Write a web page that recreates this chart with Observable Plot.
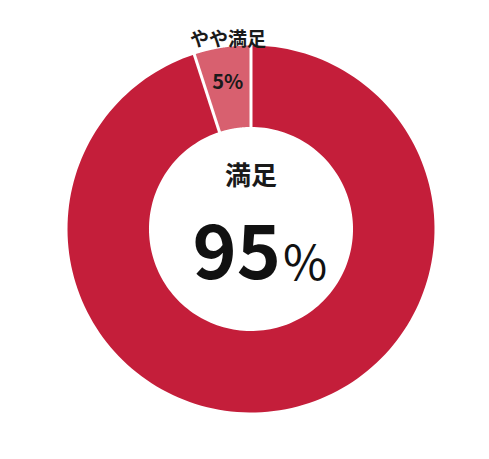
<!DOCTYPE html>
<html><head><meta charset="utf-8">
<script src="https://cdn.jsdelivr.net/npm/d3@7"></script>
<script src="https://cdn.jsdelivr.net/npm/@observablehq/plot@0.6"></script>
<style>body{margin:0;background:#fff;}</style>
</head><body><div id="chart"></div>
<script>
const categories = ["満足", "やや満足"];
const values = [95, 5];
const valueLabels = ["95", "5%"];
const colors = ["#C41E3A", "#D8606F"];
const innerRatio = 0.556;

const arcs = d3.pie().sort(null).value(d => d)(values);
const steps = 180;
const slices = arcs.map((a, i) => {
  const pts = [];
  for (let k = 0; k <= steps; k++) {
    const t = a.startAngle + (a.endAngle - a.startAngle) * k / steps;
    pts.push({x: Math.sin(t), y: Math.cos(t), cat: categories[i]});
  }
  for (let k = steps; k >= 0; k--) {
    const t = a.startAngle + (a.endAngle - a.startAngle) * k / steps;
    pts.push({x: Math.sin(t) * innerRatio, y: Math.cos(t) * innerRatio, cat: categories[i]});
  }
  return pts;
});
const seps = arcs.map(a => ({
  x1: Math.sin(a.startAngle) * (innerRatio - 0.02), y1: Math.cos(a.startAngle) * (innerRatio - 0.02),
  x2: Math.sin(a.startAngle) * 1.02, y2: Math.cos(a.startAngle) * 1.02
}));
const small = arcs[1];
const mid = (small.startAngle + small.endAngle) / 2;
const font = "'Noto Sans CJK JP', 'Noto Sans', sans-serif";

const chart = Plot.plot({
  width: 489, height: 459,
  marginLeft: 67, marginRight: 55, marginTop: 45, marginBottom: 47,
  x: {domain: [-1, 1], axis: null},
  y: {domain: [-1, 1], axis: null},
  style: {fontFamily: font, background: "#fff", overflow: "visible"},
  marks: [
    ...slices.map((pts, i) => Plot.line(pts, {x: "x", y: "y", fill: colors[i], stroke: "none", curve: "linear"})),
    Plot.link(seps, {x1: "x1", y1: "y1", x2: "x2", y2: "y2", stroke: "#fff", strokeWidth: 3}),
    Plot.text([categories[0]], {x: () => 0, y: () => 0, text: d => d, dy: -44, lineAnchor: "bottom", fontSize: 26, fontWeight: 700, fill: "#1a1a1a"}),
    Plot.text([valueLabels[0]], {x: () => 0, y: () => 0, text: d => d, textAnchor: "end", dx: 30, dy: 49.5, lineAnchor: "bottom", fontSize: 75, fontWeight: 700, fill: "#111"}),
    Plot.text(["%"], {x: () => 0, y: () => 0, text: d => d, textAnchor: "start", dx: 32, dy: 51, lineAnchor: "bottom", fontSize: 48, fontWeight: 400, fill: "#111"}),
    Plot.text([categories[1]], {x: () => Math.sin(mid) * 0.8, y: () => 1, text: d => d, dy: 0, lineAnchor: "bottom", fontSize: 19, fontWeight: 700, fill: "#1a1a1a"}),
    Plot.text([valueLabels[1]], {x: () => Math.sin(mid) * 0.81, y: () => Math.cos(mid) * 0.81, text: d => d, lineAnchor: "middle", fontSize: 20, fontWeight: 700, fill: "#1a1a1a"})
  ]
});
document.getElementById("chart").appendChild(chart);
</script>
</body></html>
